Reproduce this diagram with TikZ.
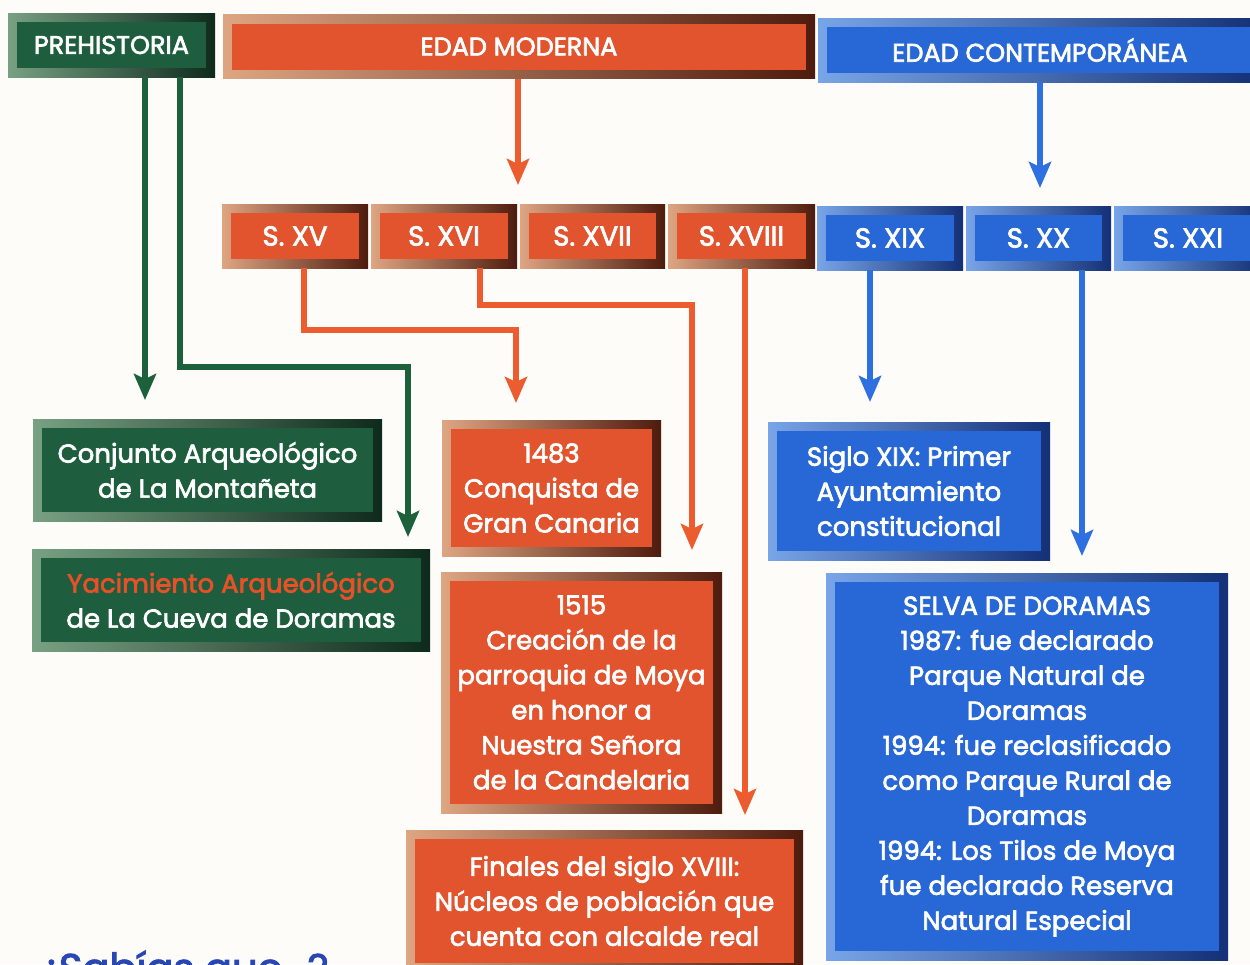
\documentclass[tikz,border=0pt]{standalone}
\usepackage{fontspec}
\setmainfont{Poppins}
\newfontfamily\bfont{Poppins}[FakeBold=2.6]
\usetikzlibrary{arrows.meta}
\definecolor{bg}{RGB}{253,252,248}
\definecolor{gLt}{RGB}{120,160,130}
\definecolor{gDk}{RGB}{14,42,28}
\definecolor{gMain}{RGB}{30,94,62}
\definecolor{oLt}{RGB}{222,165,130}
\definecolor{oDk}{RGB}{78,28,14}
\definecolor{oMain}{RGB}{226,84,46}
\definecolor{bLt}{RGB}{120,165,232}
\definecolor{bDk}{RGB}{20,48,118}
\definecolor{bMain}{RGB}{40,104,214}
\definecolor{gLine}{RGB}{28,96,60}
\definecolor{oLine}{RGB}{236,92,46}
\definecolor{bLine}{RGB}{46,112,226}
\definecolor{yRed}{RGB}{232,80,40}
\definecolor{sabBlue}{RGB}{40,70,180}
\newcommand{\bodyfont}{\bfont\fontsize{26}{35}\selectfont}
\newcommand{\headfont}{\bfont\fontsize{25.5}{28}\selectfont}
\newcommand{\cenfont}{\bfont\fontsize{27.5}{30}\selectfont}
\tikzset{
  box/.style={rectangle, inner sep=0pt, text=white, align=center, font=\bodyfont},
  gbox/.style={box, left color=gLt, right color=gDk,
    path picture={\fill[gMain] ([shift={(9pt,-9pt)}]path picture bounding box.north west) rectangle ([shift={(-9pt,9pt)}]path picture bounding box.south east);}},
  obox/.style={box, left color=oLt, right color=oDk,
    path picture={\fill[oMain] ([shift={(9pt,-9pt)}]path picture bounding box.north west) rectangle ([shift={(-9pt,9pt)}]path picture bounding box.south east);}},
  bbox/.style={box, left color=bLt, right color=bDk,
    path picture={\fill[bMain] ([shift={(9pt,-9pt)}]path picture bounding box.north west) rectangle ([shift={(-9pt,9pt)}]path picture bounding box.south east);}},
  head/.style={font=\headfont, minimum height=64pt},
  cent/.style={font=\cenfont, minimum height=64pt},
  conn/.style={line width=5.8pt, -{Stealth[length=26pt,width=22pt,inset=5pt]}},
  garr/.style={conn, draw=gLine},
  oarr/.style={conn, draw=oLine},
  barr/.style={conn, draw=bLine},
}
\begin{document}
\begin{tikzpicture}[x=1pt,y=-1pt]
\fill[bg] (0,0) rectangle (1250,964);
\useasboundingbox (0,0) rectangle (1250,964);
% headers
\node[gbox, head, minimum width=207pt] (prehist) at (111.5,45) {PREHISTORIA};
\node[obox, head, minimum width=592pt] (moderna) at (519,46.5) {EDAD MODERNA};
\node[bbox, head, minimum width=444pt] (contemp) at (1040,50) {EDAD CONTEMPORÁNEA};
% centuries
\node[obox, cent, minimum width=146pt] (sxv) at (295,236) {S. XV};
\node[obox, cent, minimum width=146pt] (sxvi) at (444,236) {S. XVI};
\node[obox, cent, minimum width=145pt] (sxvii) at (592.5,236) {S. XVII};
\node[obox, cent, minimum width=147pt] (sxviii) at (741.5,236) {S. XVIII};
\node[bbox, cent, minimum width=146pt] (sxix) at (890,238) {S. XIX};
\node[bbox, cent, minimum width=145pt] (sxx) at (1038.5,238) {S. XX};
\node[bbox, cent, minimum width=148pt] (sxxi) at (1188,238) {S. XXI};
% event boxes
\node[gbox, minimum width=349pt, minimum height=102pt] (conj) at (207.5,470) {Conjunto Arqueológico\\de La Montañeta};
\node[gbox, minimum width=398pt, minimum height=102pt] (yac) at (231,600) {\textcolor{yRed}{Yacimiento Arqueológico}\\de La Cueva de Doramas};
\node[obox, minimum width=219pt, minimum height=136pt] (e1483) at (551.5,488) {1483\\Conquista de\\Gran Canaria};
\node[obox, minimum width=281pt, minimum height=241pt] (e1515) at (581.5,692.5) {1515\\Creación de la\\parroquia de Moya\\en honor a\\Nuestra Señora\\de la Candelaria};
\node[obox, minimum width=397pt, minimum height=142pt] (fin) at (604.5,901) {Finales del siglo XVIII:\\Núcleos de población que\\cuenta con alcalde real};
\node[bbox, minimum width=282pt, minimum height=138pt] (xix) at (909,491) {Siglo XIX: Primer\\Ayuntamiento\\constitucional};
\node[bbox, minimum width=402pt, minimum height=387pt] (selva) at (1027,766.5) {SELVA DE DORAMAS\\1987: fue declarado\\Parque Natural de\\Doramas\\1994: fue reclasificado\\como Parque Rural de\\Doramas\\1994: Los Tilos de Moya\\fue declarado Reserva\\Natural Especial};
% bottom text (cut off by the lower edge, as in the reference)
\node[font=\bfont\fontsize{40}{44}\selectfont, text=sabBlue, anchor=base west, inner sep=0pt] (sab) at (38,982) {¿Sabías que...?};
% connector coordinates
\coordinate (g1) at (145,400);
\coordinate (g2a) at (180,367);
\coordinate (g2b) at (408,537);
\coordinate (m1) at (518,185);
\coordinate (c1) at (1040,188);
\coordinate (xv1) at (304,330);
\coordinate (xv2) at (516,403);
\coordinate (xvi1) at (480,305);
\coordinate (xvi2) at (692,550);
\coordinate (s18) at (745,815);
\coordinate (s19) at (870,402);
\coordinate (s20) at (1082,556);
% connectors
\draw[garr] (prehist.south -| g1) -- (g1);
\draw[garr] (prehist.south -| g2a) -- (g2a) -| (g2b);
\draw[oarr] (moderna.south -| m1) -- (m1);
\draw[barr] (contemp.south -| c1) -- (c1);
\draw[oarr] (sxv.south -| xv1) -- (xv1) -| (xv2);
\draw[oarr] (sxvi.south -| xvi1) -- (xvi1) -| (xvi2);
\draw[oarr] (sxviii.south -| s18) -- (s18);
\draw[barr] (sxix.south -| s19) -- (s19);
\draw[barr] (sxx.south -| s20) -- (s20);
\end{tikzpicture}
\end{document}
